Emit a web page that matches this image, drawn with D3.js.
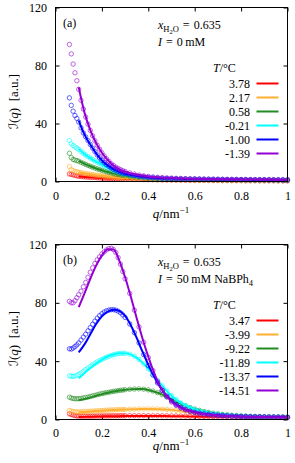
<!DOCTYPE html>
<html>
<head>
<meta charset="utf-8">
<script src="https://cdn.jsdelivr.net/npm/d3@7"></script>
<style>
  body { margin: 0; background: #fff; }
  svg { display: block; }
  text { font-family: "Liberation Serif", "DejaVu Serif", "DejaVu Sans", serif; fill: #000; }
</style>
</head>
<body>
<script>
// q grid of the measured points (both panels), and of the fitted curves
const qData = [
  0.060, 0.068, 0.076, 0.084, 0.092,
  0.10, 0.11, 0.12, 0.13, 0.14, 0.15, 0.16, 0.17, 0.18, 0.19, 0.20,
  0.21, 0.22, 0.23, 0.24, 0.25, 0.26, 0.27, 0.28, 0.29, 0.30,
  0.32, 0.34, 0.36, 0.38, 0.40, 0.42, 0.44, 0.46, 0.48, 0.50,
  0.52, 0.54, 0.56, 0.58, 0.60, 0.62, 0.64, 0.66, 0.68, 0.70,
  0.72, 0.74, 0.76, 0.78, 0.80, 0.82, 0.84, 0.86, 0.88, 0.90,
  0.92, 0.94, 0.96, 0.98, 1.00,
]
const qFit = [0.1, 0.125, 0.15, 0.175, 0.2, 0.225, 0.25, 0.275, 0.3, 0.325, 0.35,
  0.375, 0.4, 0.45, 0.5, 0.55, 0.6, 0.7, 0.8, 0.9, 1.0]

const xTicks = [0, 0.2, 0.4, 0.6, 0.8, 1]
const yTicks = [0, 40, 80, 120]

// panel (a): I = 0 mM
const tempsA = ['3.78', '2.17', '0.58', '-0.21', '-1.00', '-1.39']
const a378Data = [
  5.2, 4.9, 4.6, 4.2, 3.9,
  3.6, 3.4, 3.2, 3.1, 2.95, 2.85, 2.75, 2.65, 2.55, 2.45, 2.35, 2.25, 2.2, 2.1, 2.05, 2.0, 1.9, 1.85, 1.8, 1.75, 1.7,
  1.6, 1.5, 1.4, 1.3, 1.25, 1.2, 1.1, 1.05, 1.0, 0.95,
  0.9, 0.85, 0.85, 0.8, 0.75, 0.75, 0.7, 0.7, 0.65, 0.65,
  0.6, 0.6, 0.55, 0.55, 0.55, 0.5, 0.5, 0.5, 0.45, 0.45,
  0.45, 0.45, 0.4, 0.4, 0.4,
]
const a217Data = [
  10.3, 8.2, 7.5, 7.0, 6.7,
  6.4, 6.1, 5.8, 5.5, 5.2, 5.0, 4.8, 4.5, 4.3, 4.1, 3.9, 3.7, 3.5, 3.3, 3.15, 3.0, 2.85, 2.7, 2.6, 2.5, 2.4,
  2.2, 2.0, 1.85, 1.7, 1.6, 1.5, 1.4, 1.3, 1.25, 1.2,
  1.15, 1.1, 1.05, 1.0, 0.95, 0.9, 0.9, 0.85, 0.85, 0.8,
  0.8, 0.75, 0.75, 0.7, 0.7, 0.7, 0.65, 0.65, 0.65, 0.6,
  0.6, 0.6, 0.6, 0.55, 0.55,
]
const a058Data = [
  19.5, 16.5, 15.2, 14.8, 14.4,
  14.0, 13.2, 12.5, 11.8, 11.1, 10.5, 9.9, 9.3, 8.7, 8.2, 7.7, 7.2, 6.7, 6.3, 5.9, 5.5, 5.1, 4.8, 4.5, 4.2, 3.9,
  3.4, 3.0, 2.7, 2.4, 2.2, 2.0, 1.85, 1.7, 1.6, 1.5,
  1.45, 1.4, 1.35, 1.3, 1.25, 1.2, 1.2, 1.15, 1.1, 1.1,
  1.05, 1.05, 1.0, 1.0, 1.0, 0.95, 0.95, 0.9, 0.9, 0.9,
  0.85, 0.85, 0.85, 0.8, 0.8,
]
const a021Data = [
  28.3, 26.0, 24.8, 23.8, 23.0,
  22.2, 20.8, 19.5, 18.3, 17.2, 16.1, 15.2, 14.2, 13.3, 12.4, 11.6, 10.8, 10.0, 9.3, 8.6, 8.0, 7.2, 6.6, 6.1, 5.6, 5.1,
  4.4, 3.9, 3.4, 3.0, 2.7, 2.5, 2.3, 2.15, 2.0, 1.9,
  1.8, 1.7, 1.65, 1.6, 1.55, 1.5, 1.45, 1.4, 1.35, 1.35,
  1.3, 1.3, 1.25, 1.25, 1.2, 1.2, 1.15, 1.15, 1.1, 1.1,
  1.1, 1.05, 1.05, 1.0, 1.0,
]
const a100Data = [
  57.7, 52.5, 48.5, 45.5, 43.5,
  41.0, 37.0, 33.5, 30.8, 28.2, 25.5, 23.0, 20.6, 18.3, 16.3, 14.5, 13.0, 11.7, 10.5, 9.4, 8.5, 7.7, 7.0, 6.4, 5.9, 5.4,
  4.6, 4.0, 3.5, 3.1, 2.8, 2.6, 2.4, 2.25, 2.1, 2.0,
  1.9, 1.8, 1.75, 1.7, 1.65, 1.6, 1.55, 1.5, 1.5, 1.45,
  1.4, 1.4, 1.35, 1.35, 1.3, 1.3, 1.25, 1.25, 1.2, 1.2,
  1.2, 1.15, 1.15, 1.1, 1.1,
]
const a139Data = [
  94.5, 88.0, 81.0, 75.0, 69.5,
  63.5, 56.0, 50.0, 44.5, 39.5, 35.2, 31.5, 28.0, 25.0, 22.3, 19.8, 17.6, 15.7, 13.9, 12.3, 11.0, 9.9, 9.0, 8.2, 7.5, 6.9,
  5.9, 5.1, 4.4, 3.9, 3.5, 3.2, 2.9, 2.7, 2.5, 2.35,
  2.2, 2.1, 2.0, 1.9, 1.85, 1.8, 1.75, 1.7, 1.65, 1.6,
  1.55, 1.5, 1.5, 1.45, 1.4, 1.4, 1.35, 1.35, 1.3, 1.3,
  1.25, 1.25, 1.2, 1.2, 1.2,
]
const a378Fit = [3.5, 3.15, 2.85, 2.6, 2.35, 2.15, 2.0, 1.82, 1.7, 1.57, 1.45, 1.33, 1.25, 1.08, 0.95, 0.85, 0.75, 0.65, 0.55, 0.45, 0.4]
const a217Fit = [6.4, 5.65, 5.0, 4.4, 3.9, 3.4, 3.0, 2.65, 2.4, 2.15, 1.95, 1.75, 1.6, 1.33, 1.2, 1.08, 0.95, 0.8, 0.7, 0.6, 0.55]
const a058Fit = [14.2, 12.2, 10.5, 9.0, 7.7, 6.5, 5.5, 4.65, 3.9, 3.3, 2.85, 2.5, 2.2, 1.8, 1.5, 1.38, 1.25, 1.1, 1.0, 0.9, 0.8]
const a021Fit = [22.5, 18.9, 16.1, 13.7, 11.6, 9.6, 8.0, 6.3, 5.1, 4.25, 3.6, 3.1, 2.7, 2.2, 1.9, 1.7, 1.55, 1.35, 1.25, 1.1, 1.0]
const a100Fit = [42.0, 32.3, 25.5, 19.4, 14.5, 11.1, 8.5, 6.7, 5.4, 4.45, 3.75, 3.2, 2.8, 2.3, 2.0, 1.78, 1.65, 1.45, 1.3, 1.2, 1.1]
const a139Fit = [65.0, 47.5, 35.5, 26.5, 19.8, 14.8, 11.0, 8.6, 6.9, 5.6, 4.8, 4.1, 3.5, 2.8, 2.35, 2.05, 1.85, 1.6, 1.4, 1.3, 1.2]

// panel (b): I = 50 mM NaBPh4
const tempsB = ['3.47', '-3.99', '-9.22', '-11.89', '-13.37', '-14.51']
const b347Data = [
  3.9, 3.4, 3.0, 2.7, 2.5,
  2.4, 2.3, 2.3, 2.3, 2.3, 2.3, 2.35, 2.35, 2.4, 2.4, 2.45, 2.45, 2.5, 2.5, 2.5, 2.55, 2.55, 2.55, 2.6, 2.6, 2.6,
  2.6, 2.6, 2.6, 2.6, 2.6, 2.55, 2.55, 2.5, 2.5, 2.45,
  2.4, 2.35, 2.3, 2.25, 2.2, 2.15, 2.1, 2.05, 2.0, 1.95,
  1.9, 1.85, 1.8, 1.75, 1.7, 1.65, 1.6, 1.55, 1.5, 1.5,
  1.45, 1.4, 1.4, 1.35, 1.3,
]
const b399Data = [
  6.2, 5.8, 5.5, 5.3, 5.2,
  5.2, 5.3, 5.4, 5.5, 5.6, 5.7, 5.8, 5.9, 6.0, 6.1, 6.2, 6.3, 6.4, 6.5, 6.55, 6.6, 6.7, 6.75, 6.8, 6.85, 6.9,
  7.0, 7.1, 7.2, 7.25, 7.3, 7.3, 7.25, 7.1, 6.9, 6.6,
  6.3, 5.9, 5.5, 5.1, 4.7, 4.3, 4.0, 3.7, 3.4, 3.1,
  2.9, 2.7, 2.5, 2.3, 2.2, 2.05, 1.95, 1.85, 1.75, 1.7,
  1.6, 1.55, 1.5, 1.45, 1.4,
]
const b922Data = [
  15.3, 14.8, 14.4, 14.2, 14.2,
  14.3, 14.5, 14.8, 15.1, 15.4, 15.8, 16.2, 16.6, 17.0, 17.4, 17.8, 18.1, 18.4, 18.7, 19.0, 19.3, 19.5, 19.8, 20.0, 20.2, 20.4,
  20.7, 20.9, 21.0, 20.8, 20.3, 19.5, 18.4, 17.0, 15.5, 13.8,
  12.2, 10.7, 9.4, 8.2, 7.2, 6.3, 5.5, 4.9, 4.3, 3.9,
  3.5, 3.2, 2.9, 2.7, 2.5, 2.35, 2.2, 2.1, 2.0, 1.9,
  1.85, 1.8, 1.75, 1.7, 1.65,
]
const b1189Data = [
  30.0, 29.6, 29.5, 29.8, 30.3,
  31.0, 32.0, 33.0, 34.2, 35.3, 36.4, 37.5, 38.5, 39.5, 40.4, 41.2, 42.0, 42.7, 43.3, 43.9, 44.4, 44.8, 45.1, 45.3, 45.4, 45.4,
  44.8, 43.4, 41.2, 38.2, 34.7, 30.8, 26.8, 23.0, 19.4, 16.3,
  13.6, 11.4, 9.6, 8.1, 6.9, 6.0, 5.2, 4.6, 4.1, 3.7,
  3.3, 3.0, 2.8, 2.6, 2.4, 2.3, 2.2, 2.1, 2.0, 1.9,
  1.85, 1.8, 1.75, 1.7, 1.65,
]
const b1337Data = [
  48.5, 48.3, 49.0, 50.0, 51.2,
  52.5, 54.5, 56.5, 58.5, 60.8, 63.0, 65.3, 67.5, 69.5, 71.2, 72.6, 73.7, 74.5, 75.0, 75.3, 75.3, 75.0, 74.3, 73.2, 71.7, 70.0,
  65.5, 59.5, 52.5, 44.5, 37.0, 30.5, 25.0, 20.0, 16.0, 12.8,
  10.2, 8.3, 6.9, 5.8, 5.0, 4.4, 3.9, 3.5, 3.2, 2.9,
  2.7, 2.5, 2.35, 2.2, 2.1, 2.0, 1.9, 1.85, 1.8, 1.75,
  1.7, 1.65, 1.6, 1.55, 1.5,
]
const b1451Data = [
  81.0, 80.0, 80.0, 81.5, 83.5,
  85.5, 88.0, 91.0, 94.0, 97.5, 101.0, 104.0, 107.0, 109.5, 111.5, 113.5, 115.0, 116.3, 117.2, 117.4, 116.5, 114.5, 111.0, 106.5, 101.5, 96.5,
  86.5, 75.0, 63.5, 53.0, 42.5, 33.5, 26.0, 20.0, 15.5, 12.0,
  9.6, 7.8, 6.5, 5.5, 4.8, 4.1, 3.6, 3.2, 2.9, 2.7,
  2.5, 2.35, 2.2, 2.1, 2.0, 1.9, 1.85, 1.8, 1.75, 1.7,
  1.65, 1.6, 1.55, 1.5, 1.5,
]
const b347Fit = [1.7, 1.8, 1.9, 2.0, 2.1, 2.2, 2.25, 2.3, 2.35, 2.4, 2.4, 2.4, 2.4, 2.35, 2.3, 2.2, 2.05, 1.8, 1.6, 1.4, 1.25]
const b399Fit = [4.9, 5.2, 5.5, 5.8, 6.05, 6.3, 6.5, 6.7, 6.85, 7.0, 7.1, 7.2, 7.25, 7.1, 6.6, 5.7, 4.7, 3.1, 2.2, 1.7, 1.4]
const b922Fit = [13.2, 14.0, 15.1, 16.3, 17.4, 18.4, 19.2, 19.9, 20.4, 20.8, 21.0, 20.9, 20.3, 17.8, 13.8, 10.0, 7.2, 3.9, 2.5, 1.9, 1.65]
const b1189Fit = [28.2, 31.8, 35.3, 38.3, 41.0, 43.2, 44.6, 45.4, 45.4, 44.5, 42.3, 39.0, 34.8, 25.0, 16.3, 10.5, 7.0, 3.7, 2.4, 1.9, 1.65]
const b1337Fit = [46.0, 51.5, 58.5, 65.5, 70.8, 74.0, 75.3, 74.5, 71.0, 64.5, 56.0, 46.5, 37.5, 22.5, 12.8, 7.6, 5.0, 2.9, 2.1, 1.75, 1.5]
const b1451Fit = [77.0, 86.5, 96.5, 105.5, 112.5, 116.8, 116.5, 109.0, 97.5, 84.0, 69.5, 55.5, 43.0, 23.0, 12.3, 7.2, 4.8, 2.8, 2.0, 1.7, 1.5]

const colors = ['#ff0000', '#ffb030', '#228b22', '#00ffff', '#0000ff', '#9400d3']
const serif = '"Liberation Serif", "DejaVu Serif", serif'

const svg = d3.select('body').append('svg').attr('width', 295).attr('height', 463)

const x = d3.scaleLinear().domain([0, 1]).range([55.5, 287.5])

// append a text made of [string, attrs] pieces
function rich (g, px, py, parts) {
  const t = g.append('text').attr('x', px).attr('y', py).attr('font-size', 12)
  parts.forEach(([s, a]) => {
    const ts = t.append('tspan').text(s)
    _.each(a || {}, (v, k) => ts.attr(k, v))
  })
  return t
}
const _ = { each: (o, f) => Object.keys(o).forEach(k => f(o[k], k)) }

function drawPanel (p) {
  const y = d3.scaleLinear().domain([0, 120]).range([p.bottom, p.top])
  const g = svg.append('g')
  const fmt = d3.format('~g')
  const styleAxis = a => a.attr('font-family', serif).attr('font-size', 12)
    .call(s => s.select('.domain').remove())
    .call(s => s.selectAll('line').attr('stroke', '#000'))

  g.append('g').attr('transform', `translate(0,${p.bottom})`)
    .call(d3.axisBottom(x).tickValues(xTicks).tickSize(-4).tickPadding(p.tickGap).tickFormat(fmt))
    .call(styleAxis)
  g.append('g').attr('transform', `translate(0,${p.top})`)
    .call(d3.axisTop(x).tickValues(xTicks).tickSize(-4).tickFormat(''))
    .call(styleAxis)
  g.append('g').attr('transform', 'translate(55.5,0)')
    .call(d3.axisLeft(y).tickValues(yTicks).tickSize(-4).tickPadding(8.5).tickFormat(fmt))
    .call(styleAxis)
  g.append('g').attr('transform', 'translate(287.5,0)')
    .call(d3.axisRight(y).tickValues(yTicks).tickSize(-4).tickFormat(''))
    .call(styleAxis)

  const line = d3.line().x(d => x(d[0])).y(d => y(d[1])).curve(d3.curveMonotoneX)
  p.data.forEach((vals, i) => {
    g.append('g').selectAll('circle')
      .data(d3.zip(qData, vals))
      .join('circle')
      .attr('cx', d => x(d[0]))
      .attr('cy', d => y(d[1]))
      .attr('r', 2.2)
      .attr('fill', 'none')
      .attr('stroke', colors[i])
      .attr('stroke-width', 0.7)
      .attr('stroke-opacity', 0.85)
    g.append('path')
      .datum(d3.zip(qFit, p.fits[i]))
      .attr('d', line)
      .attr('fill', 'none')
      .attr('stroke', colors[i])
      .attr('stroke-width', 2)
  })

  g.append('rect')
    .attr('x', 55.5).attr('y', p.top)
    .attr('width', 232).attr('height', p.bottom - p.top)
    .attr('fill', 'none').attr('stroke', '#000').attr('stroke-width', 1)

  // annotations
  rich(g, 63, p.top + 19.5, [[p.tag]])
  rich(g, 158, p.top + 21.5, [
    ['x', {'font-style': 'italic'}],
    ['H', {'font-size': 8.5, dy: 3}],
    ['2', {'font-size': 6.5, dy: 1.5}],
    ['O', {'font-size': 8.5, dy: -1.5}],
    ['\u2004=\u20040.635', {dy: -3}],
  ])
  rich(g, 158, p.top + 38.5, p.ionic)
  rich(g, 213, p.top + 64, [['T', {'font-style': 'italic'}], ['/°C']])

  p.temps.forEach((label, i) => {
    const cy = p.top + 76 + i * 14
    g.append('text').attr('x', 250).attr('y', cy + 4)
      .attr('font-size', 12).attr('text-anchor', 'end').text(label)
    g.append('line').attr('x1', 256.5).attr('x2', 278.5).attr('y1', cy).attr('y2', cy)
      .attr('stroke', colors[i]).attr('stroke-width', 2)
  })

  // axis titles
  rich(g, 0, 0, [
    ['ℐ', {'font-family': '"DejaVu Serif", "DejaVu Sans", serif', 'font-style': 'italic'}],
    ['('], ['q', {'font-style': 'italic'}], [')\u2002[a.u.]'],
  ]).attr('font-size', 13)
    .attr('text-anchor', 'middle')
    .attr('transform', `translate(18,${p.top + 94}) rotate(-90)`)
  rich(g, 171, p.xTitleY, [
    ['q', {'font-style': 'italic'}], ['/nm'], ['−1', {'font-size': 9, dy: -5}],
  ]).attr('font-size', 13).attr('text-anchor', 'middle')
}

drawPanel({
  top: 7.5, bottom: 181.5, tickGap: 9.5, xTitleY: 218, tag: '(a)', temps: tempsA,
  ionic: [['I', {'font-style': 'italic'}], ['\u2004=\u20040\u2009mM']],
  data: [a378Data, a217Data, a058Data, a021Data, a100Data, a139Data],
  fits: [a378Fit, a217Fit, a058Fit, a021Fit, a100Fit, a139Fit],
})
drawPanel({
  top: 244.5, bottom: 419.5, tickGap: 8.5, xTitleY: 450, tag: '(b)', temps: tempsB,
  ionic: [['I', {'font-style': 'italic'}], ['\u2004=\u200450\u2009mM NaBPh'], ['4', {'font-size': 8.5, dy: 3}]],
  data: [b347Data, b399Data, b922Data, b1189Data, b1337Data, b1451Data],
  fits: [b347Fit, b399Fit, b922Fit, b1189Fit, b1337Fit, b1451Fit],
})
</script>
</body>
</html>
